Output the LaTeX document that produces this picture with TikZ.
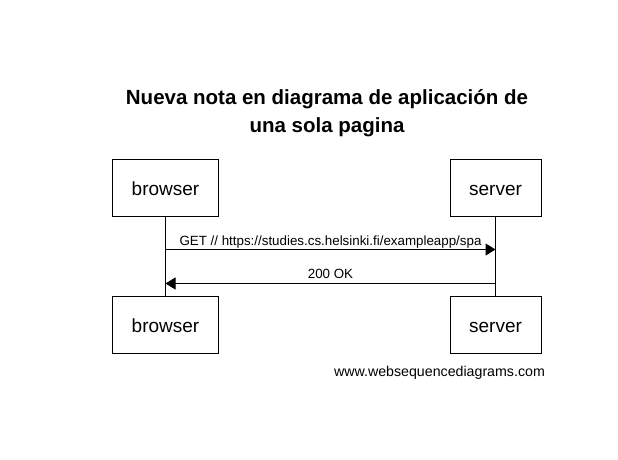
\documentclass[tikz,border=0pt]{standalone}
\usepackage{fontspec}
\setmainfont{Liberation Sans}
\usetikzlibrary{arrows.meta, positioning}

\begin{document}
\begin{tikzpicture}[
  x=1pt, y=-1pt,
  >={Triangle[length=10pt, width=12pt]},
  actor/.style={draw, line width=1pt, minimum height=57pt, inner sep=0pt, text height=18pt, text depth=1.6pt, font=\fontsize{19}{21}\selectfont},
  msg/.style={->, line width=1pt},
  msglabel/.style={anchor=base, inner sep=0pt, font=\fontsize{13.35}{15}\selectfont},
]
  \useasboundingbox (0,0) rectangle (618,460);

  % title
  \node[align=center, anchor=north, inner sep=0pt, font=\fontsize{20.5}{28.5}\selectfont\bfseries] (title) at (327,89) {Nueva nota en diagrama de aplicación de\\una sola pagina};

  % participants
  \node[actor, minimum width=106pt] (browsertop) at (165.5,187.5) {browser};
  \node[actor, minimum width=91pt] (servertop) at (495.5,187.5) {server};
  \node[actor, minimum width=106pt] (browserbot) at (165.5,324.5) {browser};
  \node[actor, minimum width=91pt] (serverbot) at (495.5,324.5) {server};

  % lifelines
  \draw[line width=1pt] (browsertop) -- (browserbot);
  \draw[line width=1pt] (servertop) -- (serverbot);

  % messages
  \coordinate (b1) at (165.5,249.5);
  \coordinate (s1) at (495.5,249.5);
  \coordinate (b2) at (165.5,283.5);
  \coordinate (s2) at (495.5,283.5);
  \draw[msg] (b1) -- (s1);
  \draw[msg] (s2) -- (b2);
  \node[msglabel] (get) at (330.5,245) {GET // https://studies.cs.helsinki.fi/exampleapp/spa};
  \node[msglabel] (ok) at (330.5,278) {200 OK};

  % footer
  \node[msglabel, font=\fontsize{14.2}{16}\selectfont] (footer) at (439.5,376) {www.websequencediagrams.com};
\end{tikzpicture}
\end{document}
